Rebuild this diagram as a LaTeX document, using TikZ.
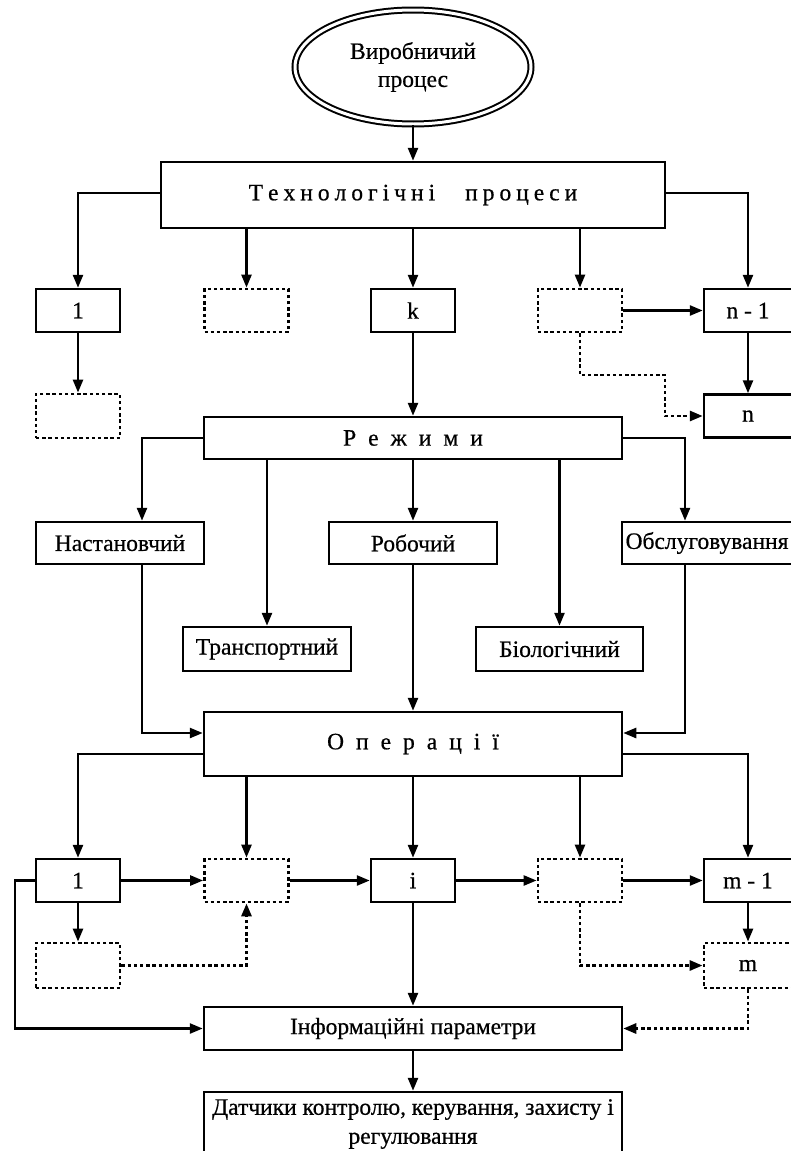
\documentclass[tikz,border=0pt]{standalone}
\usepackage{fontspec}
\setmainfont{Liberation Serif}[FakeBold=0.6]
\usetikzlibrary{arrows.meta,shapes.geometric}
\newcommand{\widesp}[1]{\spaceskip=#1 plus 1pt\relax}

\begin{document}
\begin{tikzpicture}[x=1pt,y=-1pt,
  every node/.style={font=\fontsize{23.5}{27}\selectfont, inner sep=0pt},
  box/.style={draw, line width=2.5pt, rectangle, minimum width=84pt, minimum height=43pt},
  dbox/.style={box, line width=2.8pt, dash pattern=on 3.4pt off 2.8pt},
  arr/.style={line width=2.5pt, -{Triangle[length=13pt,width=10pt]}},
  darr/.style={arr, line width=2.8pt, dash pattern=on 3.4pt off 2.8pt}
]
\useasboundingbox (0,0) rectangle (790,1151);

% top of the hierarchy
\node[ellipse, draw, double, double distance=3pt, line width=2pt,
      minimum width=236pt, minimum height=114pt, align=center,
      font=\fontsize{23.5}{28}\selectfont] (proc) at (413,67) {Виробничий\\процес};
\node[box, minimum width=504pt, minimum height=66pt] (tech) at (413,195)
  {\widesp{5pt}Т е х н о л о г і ч н і \hspace{20pt} п р о ц е с и};

% technological processes 1..n
\node[box] (r1a) at (78,310.5) {1};
\node[dbox] (r1b) at (246.5,310.5) {};
\node[box] (r1k) at (413,310.5) {k};
\node[dbox] (r1d) at (580,310.5) {};
\node[box, minimum width=88pt] (r1n1) at (748,310.5) {n - 1};
\node[dbox, minimum height=44pt] (r1e) at (78,416) {};
\node[box, minimum width=88pt] (n) at (748,416) {n};
\coordinate (bend1) at (665,375);

% modes
\node[box, minimum width=418pt, minimum height=42pt] (modes) at (413,438) {\widesp{12pt}Р е ж и м и};
\node[box, minimum width=168pt, minimum height=42pt] (setup) at (120,543) {Настановчий};
\node[box, minimum width=168pt, minimum height=42pt] (work) at (413,543) {Робочий};
\node[box, minimum width=170pt, minimum height=42pt] (serv) at (707,543) {\makebox[0pt]{Обслуговування}};
\node[box, minimum width=168pt, minimum height=44pt] (trans) at (267,649) {Транспортний};
\node[box, minimum width=167pt, minimum height=44pt] (bio) at (559.5,649) {Біологічний};

% operations 1..m
\node[box, minimum width=418pt, minimum height=64pt] (ops) at (413,744) {\widesp{12pt}О п е р а ц і ї};
\node[box] (r2a) at (78,880.5) {1};
\node[dbox] (r2b) at (246.5,880.5) {};
\node[box] (r2i) at (413,880.5) {i};
\node[dbox] (r2d) at (580,880.5) {};
\node[box, minimum width=88pt] (r2m1) at (748,880.5) {m - 1};
\node[dbox, minimum height=45pt] (r2e) at (78,965.5) {};
\node[dbox, minimum width=88pt, minimum height=45pt] (r2m) at (748,965.5) {m};

% parameters and sensors
\node[box, minimum width=418pt, minimum height=43pt] (info) at (413,1028.5) {Інформаційні параметри};
\node[box, minimum width=418pt, minimum height=64pt, align=center,
      font=\fontsize{23.5}{29}\selectfont] (sens) at (413,1124)
  {\makebox[0pt]{Датчики контролю, керування, захисту і}\\\makebox[0pt]{регулювання}};

% connectors: processes
\draw[arr] (proc.south) -- (tech.north);
\draw[arr] ([yshift=2pt]tech.west) -| (r1a.north);
\draw[arr] ([yshift=2pt]tech.east) -| (r1n1.north);
\draw[arr] (tech.south -| r1b.north) -- (r1b.north);
\draw[arr] (tech.south) -- (r1k.north);
\draw[arr] (tech.south -| r1d.north) -- (r1d.north);
\draw[arr] (r1d.east) -- (r1n1.west);
\draw[arr] (r1n1.south) -- (n.north);
\draw[darr] (r1d.south) |- (bend1) |- (n.west);
\draw[arr] (r1a.south) -- (r1e.north);
\draw[arr] (r1k.south) -- (modes.north);

% connectors: modes
\draw[arr] (modes.west) -| ([xshift=22pt]setup.north);
\draw[arr] (modes.east) -| ([xshift=-22pt]serv.north);
\draw[arr] (modes.south -| trans.north) -- (trans.north);
\draw[arr] (modes.south) -- (work.north);
\draw[arr] (modes.south -| bio.north) -- (bio.north);
\draw[arr] ([xshift=22pt]setup.south) |- ([yshift=11pt]ops.west);
\draw[arr] ([xshift=-22pt]serv.south) |- ([yshift=11pt]ops.east);
\draw[arr] (work.south) -- (ops.north);

% connectors: operations
\draw[arr] ([yshift=-10pt]ops.west) -| (r2a.north);
\draw[arr] ([yshift=-10pt]ops.east) -| (r2m1.north);
\draw[arr] (ops.south -| r2b.north) -- (r2b.north);
\draw[arr] (ops.south) -- (r2i.north);
\draw[arr] (ops.south -| r2d.north) -- (r2d.north);
\draw[arr] (r2a.east) -- (r2b.west);
\draw[arr] (r2b.east) -- (r2i.west);
\draw[arr] (r2i.east) -- (r2d.west);
\draw[arr] (r2d.east) -- (r2m1.west);
\draw[arr] (r2a.west) -- ++(-20,0) |- (info.west);
\draw[arr] (r2a.south) -- (r2e.north);
\draw[darr] (r2e.east) -| (r2b.south);
\draw[darr] (r2d.south) |- (r2m.west);
\draw[arr] (r2m1.south) -- (r2m.north);
\draw[darr] (r2m.south) |- (info.east);
\draw[arr] (r2i.south) -- (info.north);
\draw[arr] (info.south) -- (sens.north);
\end{tikzpicture}
\end{document}
